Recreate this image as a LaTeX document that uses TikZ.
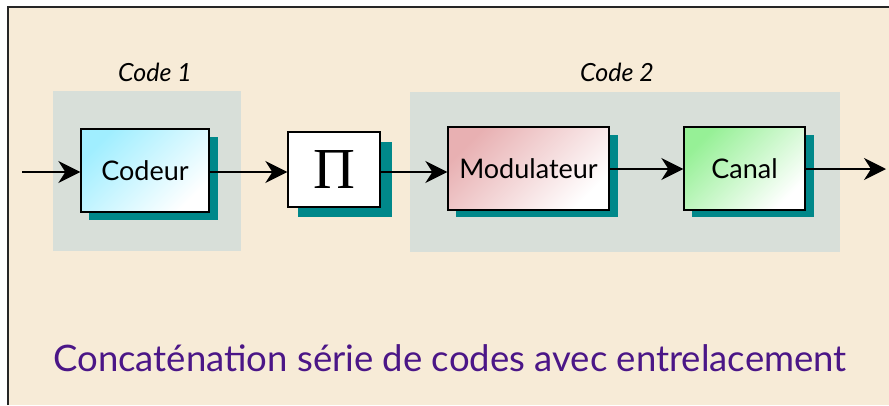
\documentclass[tikz,border=0pt]{standalone}
\usepackage{fontspec}
\setmainfont{Lato}
\newfontfamily\piserif{Liberation Serif}
\usetikzlibrary{arrows.meta}
\definecolor{beige}{RGB}{247,235,215}
\definecolor{grayblk}{RGB}{216,223,217}
\definecolor{shadowteal}{RGB}{0,136,138}
\definecolor{cyanc}{RGB}{160,238,255}
\definecolor{pinkc}{RGB}{232,176,178}
\definecolor{greenc}{RGB}{150,240,150}
\definecolor{titlec}{RGB}{75,22,135}
\tikzset{
  blockbox/.style={draw=black, line width=1.3pt, inner sep=0pt, font=\fontsize{27}{31}\selectfont},
  arr/.style={line width=1.8pt, -{Stealth[length=22pt,width=22pt,inset=7pt]}},
  codelbl/.style={font=\itshape\fontsize{25}{29}\selectfont},
  shad/.style={fill=shadowteal},
}
\begin{document}
\begin{tikzpicture}[x=1pt,y=-1pt]
\useasboundingbox (0,0) rectangle (889,405);
\fill[white] (0,0) rectangle (889,405);
\fill[beige] (8,7) rectangle (889,405);
\draw[line width=1.8pt, black!85] (8,405) -- (8,7) -- (889,7);
% group backgrounds
\fill[grayblk] (53,91) rectangle (241,251);
\fill[grayblk] (410,92) rectangle (840,252);
\node[codelbl] (lbl1) at (155,72) {Code 1};
\node[codelbl] (lbl2) at (617,72) {Code 2};
% shadows
\fill[shad] (89,137) rectangle (218,220);
\fill[shad] (298,142) rectangle (392,217);
\fill[shad] (456,135) rectangle (618,217);
\fill[shad] (692,135) rectangle (814,217);
% blocks
\node[blockbox, minimum width=128pt, minimum height=83pt, top color=cyanc, bottom color=white, shading angle=45] (codeur) at (145,170.5) {Codeur};
\node[blockbox, minimum width=92pt, minimum height=75pt, fill=white, font=\piserif\fontsize{58}{62}\selectfont] (pi) at (334,169.5) {Π};
\node[blockbox, minimum width=161pt, minimum height=83pt, top color=pinkc, bottom color=white, shading angle=45] (mod) at (528.5,168.5) {Modulateur};
\node[blockbox, minimum width=121pt, minimum height=83pt, top color=greenc, bottom color=white, shading angle=45] (canal) at (744.5,168.5) {Canal};
% connectors
\coordinate (in) at (22,172);
\coordinate (out) at (886,169);
\draw[arr] (in) -- (codeur.west |- in);
\draw[arr] (codeur.east |- 0,172) -- (pi.west |- 0,172);
\draw[arr] (pi.east |- 0,172) -- (mod.west |- 0,172);
\draw[arr] (mod.east |- 0,169) -- (canal.west |- 0,169);
\draw[arr] (canal.east |- out) -- (out);
\node[text=titlec, font=\fontsize{36.5}{42}\selectfont] (title) at (450,358) {Concaténation série de codes avec entrelacement};
\end{tikzpicture}
\end{document}
